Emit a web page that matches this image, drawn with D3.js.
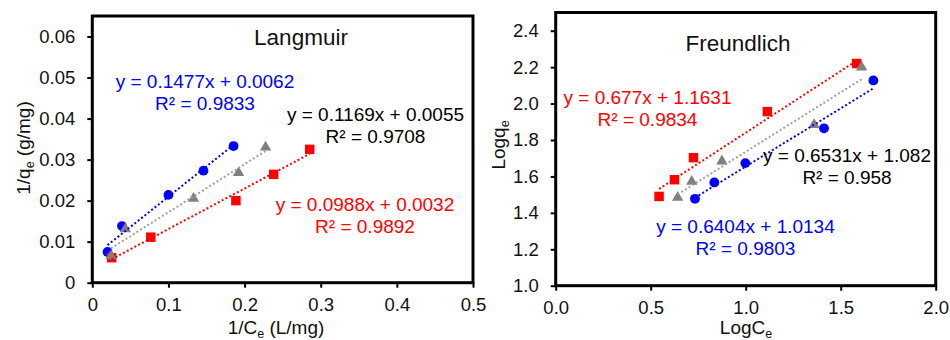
<!DOCTYPE html>
<html>
<head>
<meta charset="utf-8">
<script src="https://cdn.jsdelivr.net/npm/d3@7"></script>
<style>
  html, body { margin: 0; padding: 0; background: #fff; }
  svg { display: block; font-family: "Liberation Sans", Arial, sans-serif; }
</style>
</head>
<body>
<svg id="chart" width="950" height="340"></svg>
<script>
// Langmuir series (1/Ce, 1/qe)
const langBlueX = [0.020, 0.039, 0.100, 0.146, 0.1855];
const langBlueY = [0.0075, 0.0138, 0.0214, 0.0273, 0.0333];
const langGrayX = [0.0246, 0.0434, 0.1329, 0.1921, 0.2276];
const langGrayY = [0.0065, 0.0131, 0.0205, 0.0268, 0.0330];
const langRedX = [0.0254, 0.0768, 0.1886, 0.2382, 0.2855];
const langRedY = [0.0061, 0.0111, 0.0200, 0.0264, 0.0325];
// trendline fits: blue, gray, red
const langSlope = [0.1477, 0.1169, 0.0988];
const langIntercept = [0.0062, 0.0055, 0.0032];
const langEq = ['y = 0.1477x + 0.0062', 'y = 0.1169x + 0.0055', 'y = 0.0988x + 0.0032'];
const langR2 = ['R² = 0.9833', 'R² = 0.9708', 'R² = 0.9892'];

// Freundlich series (LogCe, Logqe)
const frBlueX = [0.733, 0.835, 0.998, 1.412, 1.672];
const frBlueY = [1.477, 1.567, 1.673, 1.864, 2.127];
const frGrayX = [0.642, 0.716, 0.875, 1.360, 1.610];
const frGrayY = [1.484, 1.572, 1.684, 1.884, 2.200];
const frRedX = [0.544, 0.625, 0.725, 1.114, 1.584];
const frRedY = [1.490, 1.582, 1.703, 1.956, 2.220];
const frSlope = [0.6404, 0.6531, 0.677];
const frIntercept = [1.0134, 1.082, 1.1631];
const frEq = ['y = 0.6404x + 1.0134', 'y = 0.6531x + 1.082', 'y = 0.677x + 1.1631'];
const frR2 = ['R² = 0.9803', 'R² = 0.958', 'R² = 0.9834'];

// ticks
const langXTicks = [0, 0.1, 0.2, 0.3, 0.4, 0.5];
const langYTicks = [0, 0.01, 0.02, 0.03, 0.04, 0.05, 0.06];
const frXTicks = [0, 0.5, 1.0, 1.5, 2.0];
const frYTicks = [1.0, 1.2, 1.4, 1.6, 1.8, 2.0, 2.2, 2.4];

const BLUE = '#0000ff', RED = '#ff0000', GRAY = '#808080', GRAY_LINE = '#a0a0a0';
const TEXT = '#111';

const svg = d3.select('#chart');

function drawPanel(cfg) {
  const g = svg.append('g');
  const x = d3.scaleLinear().domain(cfg.xDomain).range([cfg.left, cfg.right]);
  const y = d3.scaleLinear().domain(cfg.yDomain).range([cfg.bottom, cfg.top]);

  // axes
  const xAxis = g.append('g')
    .attr('transform', `translate(0,${cfg.bottom})`)
    .call(d3.axisBottom(x).tickValues(cfg.xTicks).tickFormat(cfg.xFmt)
      .tickSizeInner(5).tickSizeOuter(0).tickPadding(10.5));
  const yAxis = g.append('g')
    .attr('transform', `translate(${cfg.left},0)`)
    .call(d3.axisLeft(y).tickValues(cfg.yTicks).tickFormat(cfg.yFmt)
      .tickSizeInner(5).tickSizeOuter(0).tickPadding(12));
  [xAxis, yAxis].forEach(a => {
    a.select('.domain').remove();
    a.selectAll('line').attr('stroke', '#000').attr('stroke-width', 2);
    a.selectAll('text').attr('font-size', '18.5px').attr('fill', TEXT)
      .attr('font-family', '"Liberation Sans", Arial, sans-serif');
  });

  // frame
  g.append('rect')
    .attr('x', cfg.left).attr('y', cfg.top)
    .attr('width', cfg.right - cfg.left).attr('height', cfg.bottom - cfg.top)
    .attr('fill', 'none').attr('stroke', '#000').attr('stroke-width', 3);

  // markers
  const sym = {
    circle: d3.symbol().type(d3.symbolCircle).size(76),
    square: d3.symbol().type(d3.symbolSquare).size(90),
    triangle: d3.symbol().type(d3.symbolTriangle).size(56)
  };
  cfg.series.forEach(s => {
    g.append('g').selectAll('path')
      .data(s.xs.map((v, i) => [v, s.ys[i]]))
      .join('path')
      .attr('d', sym[s.shape])
      .attr('transform', d => `translate(${x(d[0])},${y(d[1])})`)
      .attr('fill', s.color);
  });

  // trendlines (dotted)
  cfg.series.forEach(s => {
    const [x0, x1] = d3.extent(s.xs);
    g.append('line')
      .attr('x1', x(x0)).attr('y1', y(s.slope * x0 + s.intercept))
      .attr('x2', x(x1)).attr('y2', y(s.slope * x1 + s.intercept))
      .attr('stroke', s.lineColor).attr('stroke-width', 2)
      .attr('stroke-dasharray', '2,2.3');
  });

  // equation labels
  cfg.series.forEach(s => {
    const t = g.append('text')
      .attr('text-anchor', 'middle')
      .attr('font-size', '19px')
      .attr('fill', s.textColor);
    t.append('tspan').attr('x', s.label[0]).attr('y', s.label[1]).text(s.eq);
    t.append('tspan').attr('x', s.label[0]).attr('y', s.label[1] + 21.8).text(s.r2);
  });

  // panel title
  g.append('text')
    .attr('x', cfg.title[1]).attr('y', cfg.title[2])
    .attr('text-anchor', 'middle').attr('font-size', '22.5px').attr('fill', TEXT)
    .text(cfg.title[0]);

  // axis titles with subscripts
  const xt = g.append('text')
    .attr('x', cfg.xTitle.x).attr('y', cfg.xTitle.y)
    .attr('text-anchor', 'middle').attr('font-size', '19px').attr('fill', TEXT);
  xt.append('tspan').text(cfg.xTitle.parts[0]);
  xt.append('tspan').attr('font-size', '12.5px').attr('dy', 4).text(cfg.xTitle.parts[1]);
  xt.append('tspan').attr('dy', -4).text(cfg.xTitle.parts[2]);

  const yt = g.append('text')
    .attr('transform', `translate(${cfg.yTitle.x},${cfg.yTitle.y}) rotate(-90)`)
    .attr('text-anchor', 'middle').attr('font-size', '19px').attr('fill', TEXT);
  yt.append('tspan').text(cfg.yTitle.parts[0]);
  yt.append('tspan').attr('font-size', '12.5px').attr('dy', 4).text(cfg.yTitle.parts[1]);
  yt.append('tspan').attr('dy', -4).text(cfg.yTitle.parts[2]);
}

drawPanel({
  left: 92.3, right: 473, top: 16, bottom: 282.7,
  xDomain: [0, 0.5], yDomain: [0, 0.065],
  xTicks: langXTicks, yTicks: langYTicks,
  xFmt: d => d === 0 ? '0' : String(d), yFmt: d => d === 0 ? '0' : String(d),
  series: [
    { xs: langBlueX, ys: langBlueY, shape: 'circle', color: BLUE, lineColor: BLUE, textColor: BLUE,
      slope: langSlope[0], intercept: langIntercept[0], eq: langEq[0], r2: langR2[0], label: [205, 87.7] },
    { xs: langRedX, ys: langRedY, shape: 'square', color: RED, lineColor: RED, textColor: RED,
      slope: langSlope[2], intercept: langIntercept[2], eq: langEq[2], r2: langR2[2], label: [365, 210.7] },
    { xs: langGrayX, ys: langGrayY, shape: 'triangle', color: GRAY, lineColor: GRAY_LINE, textColor: '#000',
      slope: langSlope[1], intercept: langIntercept[1], eq: langEq[1], r2: langR2[1], label: [375.5, 121] }
  ],
  title: ['Langmuir', 301, 45],
  xTitle: { x: 276, y: 334, parts: ['1/C', 'e', ' (L/mg)'] },
  yTitle: { x: 30, y: 148, parts: ['1/q', 'e', ' (g/mg)'] }
});

drawPanel({
  left: 555.7, right: 935.7, top: 12.5, bottom: 285.7,
  xDomain: [0, 2], yDomain: [1.0, 2.5],
  xTicks: frXTicks, yTicks: frYTicks,
  xFmt: d3.format('.1f'), yFmt: d3.format('.1f'),
  series: [
    { xs: frBlueX, ys: frBlueY, shape: 'circle', color: BLUE, lineColor: BLUE, textColor: BLUE,
      slope: frSlope[0], intercept: frIntercept[0], eq: frEq[0], r2: frR2[0], label: [745.5, 232.7] },
    { xs: frRedX, ys: frRedY, shape: 'square', color: RED, lineColor: RED, textColor: RED,
      slope: frSlope[2], intercept: frIntercept[2], eq: frEq[2], r2: frR2[2], label: [647.5, 104] },
    { xs: frGrayX, ys: frGrayY, shape: 'triangle', color: GRAY, lineColor: GRAY_LINE, textColor: '#000',
      slope: frSlope[1], intercept: frIntercept[1], eq: frEq[1], r2: frR2[1], label: [847, 162.3] }
  ],
  title: ['Freundlich', 738, 50.7],
  xTitle: { x: 746, y: 334, parts: ['LogC', 'e', ''] },
  yTitle: { x: 505, y: 145, parts: ['Logq', 'e', ''] }
});
</script>
</body>
</html>
